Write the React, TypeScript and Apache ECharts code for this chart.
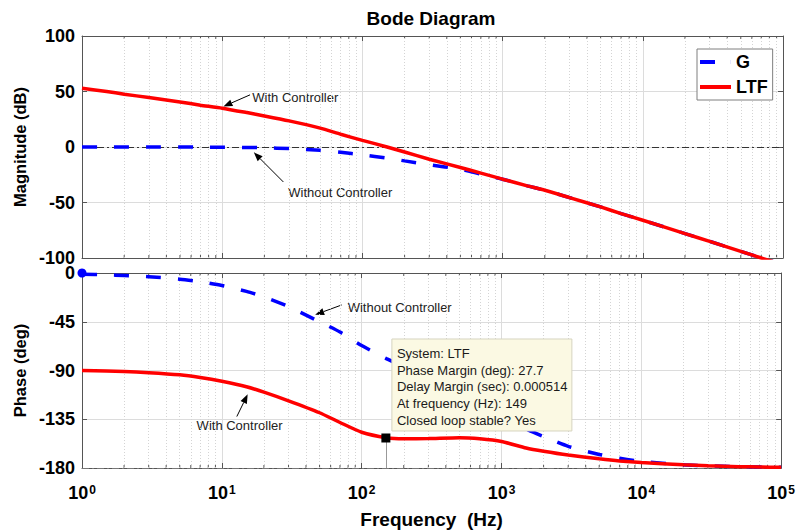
import React, { useEffect, useRef } from "react";
import * as echarts from "echarts";

// ---------- data ----------
const freq = [1, 1.5, 2, 3, 5, 7, 10, 15, 20, 30, 50, 70, 100, 150, 200, 300, 500, 700, 1000, 1500, 2000, 3000, 5000, 7000, 10000, 20000, 30000, 50000, 70000, 100000];
const gMag = [0, 0, 0, -0.01, -0.04, -0.1, -0.2, -0.4, -0.7, -1.4, -3, -4.8, -7, -10, -12.5, -16, -20, -24.5, -29, -35, -39, -45.6, -54, -60, -66, -78, -85, -94, -100, -106];
const ltfMag = [53, 50, 47.6, 44.5, 40.5, 37.7, 35, 31, 28, 23.5, 17, 11.5, 6, 0, -4.5, -11, -18.5, -23.5, -29, -35, -39, -45.6, -54, -60, -66, -78, -85, -94, -100, -106];
const gPhase = [-1.2, -1.7, -2.3, -3.4, -5.7, -8, -11.5, -17, -22, -31, -45, -54.5, -67, -79, -86.5, -97, -110, -118.5, -131, -144, -151, -160, -167.5, -171, -174, -177, -178, -178.8, -179.1, -179.4];
const ltfPhase = [-90, -90.5, -91, -92, -94, -96.5, -100, -105, -110, -118, -129, -138, -147, -152, -153, -152.8, -152, -153, -155.5, -161.5, -164.5, -168, -171.5, -173.5, -175, -177, -178, -178.8, -179.1, -179.4];

const seriesNames = ["G", "LTF"];
const decadeExps = [0, 1, 2, 3, 4];
const minorMult = [2, 3, 4, 5, 6, 7, 8, 9];

// phase-margin data tip
const pmFreq = 149;
const pmPhase = -152.3;
const tipLines = [
  "System: LTF",
  "Phase Margin (deg): 27.7",
  "Delay Margin (sec): 0.000514",
  "At frequency (Hz): 149",
  "Closed loop stable? Yes",
];

// annotations: [text, tail, tip, textAnchor, align, seriesIndex]
const annotations: any[] = [
  ["With Controller", [15.8, 47], [10.2, 36.5], [16.4, 45], "left", 0],
  ["Without Controller", [27.3, -31.5], [16.8, -4.8], [29.6, -41.4], "left", 0],
  ["Without Controller", [72, -29.5], [46.5, -38.5], [79.4, -31.4], "left", 2],
  ["With Controller", [12.8, -132.5], [15.3, -112], [13.4, -141], "center", 2],
];

const FONT = "'Liberation Sans', Arial, Helvetica, sans-serif";
const BLUE = "#0000ff";
const RED = "#ff0000";
const AXIS = "#555555";
const GRIDC = "#dcdcdc";

export default function App() {
  const ref = useRef<HTMLDivElement>(null);
  useEffect(() => {
    const chart = echarts.init(ref.current!, null, { renderer: "svg" });

    const minorVals: number[] = [];
    decadeExps.forEach((e) => minorMult.forEach((m) => minorVals.push(m * Math.pow(10, e))));

    const minorGrid = minorVals.map((v) => ({
      xAxis: v,
      lineStyle: { color: "#d4d4d4", type: [1, 2], width: 1 },
    }));

    const xBase = (gridIndex: number, position: string, labels: boolean, split: boolean) => ({
      type: "log",
      logBase: 10,
      gridIndex,
      position,
      min: 1,
      max: 100000,
      axisLine: { show: true, onZero: false, lineStyle: { color: AXIS, width: 1 } },
      axisTick: { show: true, inside: true, length: 5, lineStyle: { color: AXIS } },
      splitLine: { show: split, lineStyle: { color: GRIDC, width: 1 } },
      axisLabel: labels
        ? {
            show: true,
            margin: 16,
            formatter: (v: number) => `{b|10}{s|${Math.round(Math.log10(v))}}`,
            rich: {
              b: { fontSize: 18, fontWeight: "bold", fontFamily: FONT, color: "#000" },
              s: { fontSize: 12, fontWeight: "bold", fontFamily: FONT, color: "#000", verticalAlign: "top", padding: [0, 0, 0, 1] },
            },
          }
        : { show: false },
      name: labels ? "Frequency  (Hz)" : "",
      nameLocation: "middle",
      nameGap: 42,
      nameTextStyle: { fontSize: 19, fontWeight: "bold", fontFamily: FONT, color: "#000" },
    });

    const yBase = (gridIndex: number, position: string, min: number, max: number, interval: number, name: string, labels: boolean) => ({
      type: "value",
      gridIndex,
      position,
      min,
      max,
      interval,
      axisLine: { show: true, onZero: false, lineStyle: { color: AXIS, width: 1 } },
      axisTick: { show: true, inside: true, length: 5, lineStyle: { color: AXIS } },
      splitLine: { show: labels, lineStyle: { color: GRIDC, width: 1 } },
      axisLabel: labels
        ? { show: true, margin: 7, fontSize: 18, fontWeight: "bold", fontFamily: FONT, color: "#000" }
        : { show: false },
      name: labels ? name : "",
      nameLocation: "middle",
      nameGap: 52,
      nameTextStyle: { fontSize: 16.5, fontWeight: "bold", fontFamily: FONT, color: "#000" },
    });

    const lineCommon = { type: "line", symbol: "none", smooth: 0.2 };

    const option: any = {
      animation: false,
      backgroundColor: "#ffffff",
      grid: [
        { left: 82, top: 36, width: 701, height: 222, containLabel: false },
        { left: 82, top: 273, width: 701, height: 195, containLabel: false },
      ],
      xAxis: [
        xBase(0, "bottom", false, true),
        xBase(1, "bottom", true, true),
        xBase(0, "top", false, false),
        xBase(1, "top", false, false),
      ],
      yAxis: [
        yBase(0, "left", -100, 100, 50, "Magnitude (dB)", true),
        yBase(1, "left", -180, 0, 45, "Phase (deg)", true),
        yBase(0, "right", -100, 100, 50, "", false),
        yBase(1, "right", -180, 0, 45, "", false),
      ],
      legend: {
        data: [
          { name: seriesNames[0], icon: "path://M0,0h15v4h-15zM30.9,0h0.1v4h-0.1z" },
          { name: seriesNames[1], icon: "rect" },
        ],
        orient: "vertical",
        left: 697,
        top: 49,
        padding: [3, 5, 3, 3],
        itemGap: 5,
        itemWidth: 31,
        itemHeight: 4,
        backgroundColor: "#ffffff",
        borderColor: "#7f7f7f",
        borderWidth: 1,
        borderRadius: 0,
        textStyle: { fontSize: 18, fontWeight: "bold", fontFamily: FONT, color: "#000", lineHeight: 20 },
      },
      series: [
        {
          ...lineCommon,
          name: seriesNames[0],
          xAxisIndex: 0,
          yAxisIndex: 0,
          data: freq.map((f, i) => [f, gMag[i]]),
          z: 3,
          lineStyle: { color: BLUE, width: 3.5, type: [15, 17] },
          itemStyle: { color: BLUE },
          markLine: {
            silent: true,
            symbol: ["none", "none"],
            label: { show: false },
            z: 1,
            data: [
              ...minorGrid,
              { yAxis: 0, lineStyle: { color: "#333", width: 1, type: [7, 3, 2, 3] } },
            ],
          },
        },
        {
          ...lineCommon,
          name: seriesNames[1],
          xAxisIndex: 0,
          yAxisIndex: 0,
          data: freq.map((f, i) => [f, ltfMag[i]]),
          z: 4,
          lineStyle: { color: RED, width: 3.5 },
          itemStyle: { color: RED },
        },
        {
          ...lineCommon,
          name: seriesNames[0],
          xAxisIndex: 1,
          yAxisIndex: 1,
          data: freq.map((f, i) => [f, gPhase[i]]),
          z: 3,
          lineStyle: { color: BLUE, width: 3.5, type: [15, 17] },
          itemStyle: { color: BLUE },
          markLine: {
            silent: true,
            symbol: ["none", "none"],
            label: { show: false },
            z: 1,
            data: [
              ...minorGrid,
              { yAxis: -180, lineStyle: { color: "#777", width: 1, type: [7, 3, 2, 3] } },
            ],
          },
          markPoint: {
            silent: true,
            label: { show: false },
            data: [{ coord: [freq[0], 0], symbol: "circle", symbolSize: 9, itemStyle: { color: BLUE } }],
          },
        },
        {
          ...lineCommon,
          name: seriesNames[1],
          xAxisIndex: 1,
          yAxisIndex: 1,
          data: freq.map((f, i) => [f, ltfPhase[i]]),
          z: 4,
          lineStyle: { color: RED, width: 3.5 },
          itemStyle: { color: RED },
          markLine: {
            silent: true,
            symbol: ["none", "none"],
            label: { show: false },
            data: [[{ coord: [pmFreq, pmPhase], lineStyle: { color: "#999", width: 1, type: "solid" } }, { coord: [pmFreq, -180] }]],
          },
          markPoint: {
            silent: true,
            label: { show: false },
            data: [{ coord: [pmFreq, pmPhase], symbol: "rect", symbolSize: 9, itemStyle: { color: "#000" } }],
          },
        },
      ],
    };

    chart.setOption(option);

    const px = (si: number, f: number, v: number) => chart.convertToPixel({ seriesIndex: si }, [f, v]) as number[];

    const g: any[] = [];

    // title
    g.push({
      type: "text",
      x: 431,
      y: 18,
      style: { text: "Bode Diagram", fontSize: 19, fontWeight: "bold", fontFamily: FONT, fill: "#000", align: "center", verticalAlign: "middle" },
    });

    // minor ticks (inside) along top and bottom of each grid
    const edges: [number, number, number][] = [
      [0, 100, 1],
      [0, -100, -1],
      [2, 0, 1],
      [2, -180, -1],
    ];
    edges.forEach(([si, yv, dir]) => {
      minorVals.forEach((mv) => {
        const p = px(si, mv, yv);
        g.push({ type: "line", silent: true, shape: { x1: p[0], y1: p[1], x2: p[0], y2: p[1] + dir * 3 }, style: { stroke: AXIS, lineWidth: 1 } });
      });
    });

    // arrows and annotation texts
    annotations.forEach(([text, tail, tip, anchor, align, si]) => {
      const a = px(si, tail[0], tail[1]);
      const b = px(si, tip[0], tip[1]);
      const dx = b[0] - a[0];
      const dy = b[1] - a[1];
      const L = Math.hypot(dx, dy);
      const ux = dx / L;
      const uy = dy / L;
      const hl = 9;
      const hw = 3.5;
      const bx = b[0] - ux * hl;
      const by = b[1] - uy * hl;
      g.push({ type: "line", silent: true, shape: { x1: a[0], y1: a[1], x2: bx, y2: by }, style: { stroke: "#000", lineWidth: 1 } });
      g.push({
        type: "polygon",
        silent: true,
        shape: { points: [b, [bx - uy * hw, by + ux * hw], [bx + uy * hw, by - ux * hw]] },
        style: { fill: "#000" },
      });
      const t = px(si, anchor[0], anchor[1]);
      g.push({
        type: "text",
        x: t[0],
        y: t[1],
        style: { text, fontSize: 13, fontFamily: FONT, fill: "#222", align, verticalAlign: "middle" },
      });
    });

    // data tip box
    const m = px(3, pmFreq, pmPhase);
    const bx0 = m[0] + 6;
    const by0 = m[1] - 99;
    g.push({
      type: "rect",
      silent: true,
      shape: { x: bx0, y: by0, width: 180, height: 92 },
      style: { fill: "#fbf9e3", stroke: "#d6d4c0", lineWidth: 1 },
      z: 10,
    });
    tipLines.forEach((line, i) => {
      g.push({
        type: "text",
        x: bx0 + 5,
        y: by0 + 14.5 + i * 16.7,
        z: 11,
        style: { text: line, fontSize: 13, fontFamily: FONT, fill: "#1a1a1a", align: "left", verticalAlign: "middle" },
      });
    });

    chart.setOption({ graphic: g });

    return () => chart.dispose();
  }, []);

  return <div ref={ref} style={{ position: "absolute", left: 0, top: 0, width: 798, height: 531 }} />;
}
